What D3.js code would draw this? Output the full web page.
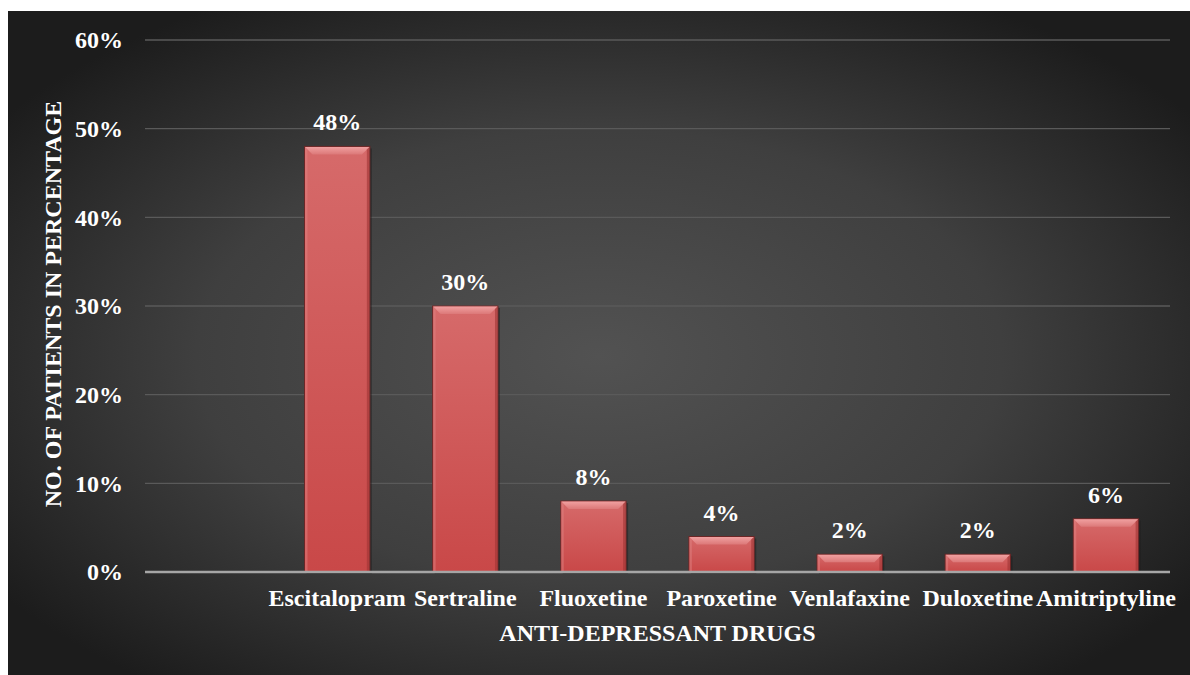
<!DOCTYPE html>
<html>
<head>
<meta charset="utf-8">
<script src="https://cdn.jsdelivr.net/npm/d3@7"></script>
<style>
  html, body { margin: 0; padding: 0; background: #ffffff; }
  svg { display: block; }
  text { font-family: "Liberation Serif", "Times New Roman", serif; font-weight: bold; fill: #ffffff; }
</style>
</head>
<body>
<svg id="chart" width="1190" height="675"></svg>
<script>
// data (first slot is an empty category)
const categories = ["", "Escitalopram", "Sertraline", "Fluoxetine", "Paroxetine", "Venlafaxine", "Duloxetine", "Amitriptyline"];
const values = [null, 48, 30, 8, 4, 2, 2, 6];
const yTicks = [0, 10, 20, 30, 40, 50, 60];

const svg = d3.select("#chart");
const W = 1190, H = 675;
const plot = { left: 145, right: 1170, top: 40, bottom: 572 };

// background
const defs = svg.append("defs");
const bg = defs.append("radialGradient").attr("id", "bg")
  .attr("cx", "50%").attr("cy", "52%").attr("r", "62%");
bg.append("stop").attr("offset", "0%").attr("stop-color", "#525252");
bg.append("stop").attr("offset", "55%").attr("stop-color", "#3f3f3f");
bg.append("stop").attr("offset", "100%").attr("stop-color", "#1c1c1c");

const barGrad = defs.append("linearGradient").attr("id", "barFill")
  .attr("x1", 0).attr("y1", 0).attr("x2", 0).attr("y2", 1);
barGrad.append("stop").attr("offset", "0%").attr("stop-color", "#d66a6a");
barGrad.append("stop").attr("offset", "100%").attr("stop-color", "#c94848");

const bevelGrad = defs.append("linearGradient").attr("id", "bevel")
  .attr("x1", 0).attr("y1", 0).attr("x2", 0).attr("y2", 1);
bevelGrad.append("stop").attr("offset", "0%").attr("stop-color", "#f0a0a0");
bevelGrad.append("stop").attr("offset", "100%").attr("stop-color", "#dc7878");

svg.append("rect")
  .attr("x", 8).attr("y", 11)
  .attr("width", W - 8).attr("height", H - 11)
  .attr("fill", "url(#bg)");

// scales
const x = d3.scaleBand().domain(categories.map((c, i) => i))
  .range([plot.left, plot.right]).paddingInner(0.49).paddingOuter(0.245);
const y = d3.scaleLinear().domain([0, 60]).range([plot.bottom, plot.top]);

// gridlines
svg.append("g").selectAll("line")
  .data(yTicks.filter(t => t > 0))
  .join("line")
  .attr("x1", plot.left).attr("x2", plot.right)
  .attr("y1", d => y(d)).attr("y2", d => y(d))
  .attr("stroke", "#5a5a5a").attr("stroke-width", 1.3);

// y tick labels
svg.append("g").selectAll("text")
  .data(yTicks)
  .join("text")
  .attr("x", 123).attr("y", d => y(d))
  .attr("dy", "0.35em")
  .attr("text-anchor", "end")
  .attr("font-size", 24)
  .text(d => d + "%");

// bars
const bars = svg.append("g").selectAll("g")
  .data(values.map((v, i) => ({ i, v })).filter(d => d.v != null))
  .join("g");

bars.append("rect")
  .attr("x", d => x(d.i) + 2).attr("y", d => y(d.v) + 2)
  .attr("width", x.bandwidth()).attr("height", d => y(0) - y(d.v))
  .attr("fill", "#1a1a1a").attr("opacity", 0.45);

bars.append("rect")
  .attr("x", d => x(d.i)).attr("y", d => y(d.v))
  .attr("width", x.bandwidth()).attr("height", d => y(0) - y(d.v))
  .attr("fill", "url(#barFill)")
  .attr("stroke", "#6b2626").attr("stroke-width", 1);

const bv = 8;
bars.append("path")
  .attr("d", d => {
    const x0 = x(d.i), x1 = x0 + x.bandwidth(), t = y(d.v);
    return `M${x0 + 0.5},${t + 0.5}L${x1 - 0.5},${t + 0.5}L${x1 - bv},${t + bv}L${x0 + bv},${t + bv}Z`;
  })
  .attr("fill", "url(#bevel)");

bars.append("path")
  .attr("d", d => {
    const x0 = x(d.i), t = y(d.v), b = y(0);
    return `M${x0 + 0.5},${t + 0.5}L${x0 + 3},${t + 3}L${x0 + 3},${b}L${x0 + 0.5},${b}Z`;
  })
  .attr("fill", "#e08282").attr("opacity", 0.5);

bars.append("path")
  .attr("d", d => {
    const x1 = x(d.i) + x.bandwidth(), t = y(d.v), b = y(0);
    return `M${x1 - 0.5},${t + 0.5}L${x1 - 3},${t + 3}L${x1 - 3},${b}L${x1 - 0.5},${b}Z`;
  })
  .attr("fill", "#9e3434").attr("opacity", 0.6);

// value labels
bars.append("text")
  .attr("x", d => x(d.i) + x.bandwidth() / 2)
  .attr("y", d => y(d.v) - 16)
  .attr("text-anchor", "middle")
  .attr("font-size", 24)
  .text(d => d.v + "%");

// x axis line
svg.append("line")
  .attr("x1", plot.left).attr("x2", plot.right)
  .attr("y1", plot.bottom).attr("y2", plot.bottom)
  .attr("stroke", "#a6a6a6").attr("stroke-width", 2.5);

// category labels
svg.append("g").selectAll("text")
  .data(categories.map((c, i) => ({ c, i })).filter(d => d.c))
  .join("text")
  .attr("x", d => x(d.i) + x.bandwidth() / 2)
  .attr("y", 606)
  .attr("text-anchor", "middle")
  .attr("font-size", 24)
  .text(d => d.c);

// axis titles
svg.append("text")
  .attr("x", (plot.left + plot.right) / 2).attr("y", 641)
  .attr("text-anchor", "middle")
  .attr("font-size", 24)
  .text("ANTI-DEPRESSANT DRUGS");

svg.append("text")
  .attr("transform", "translate(61,304) rotate(-90)")
  .attr("text-anchor", "middle")
  .attr("font-size", 24)
  .text("NO. OF PATIENTS IN PERCENTAGE");
</script>
</body>
</html>
